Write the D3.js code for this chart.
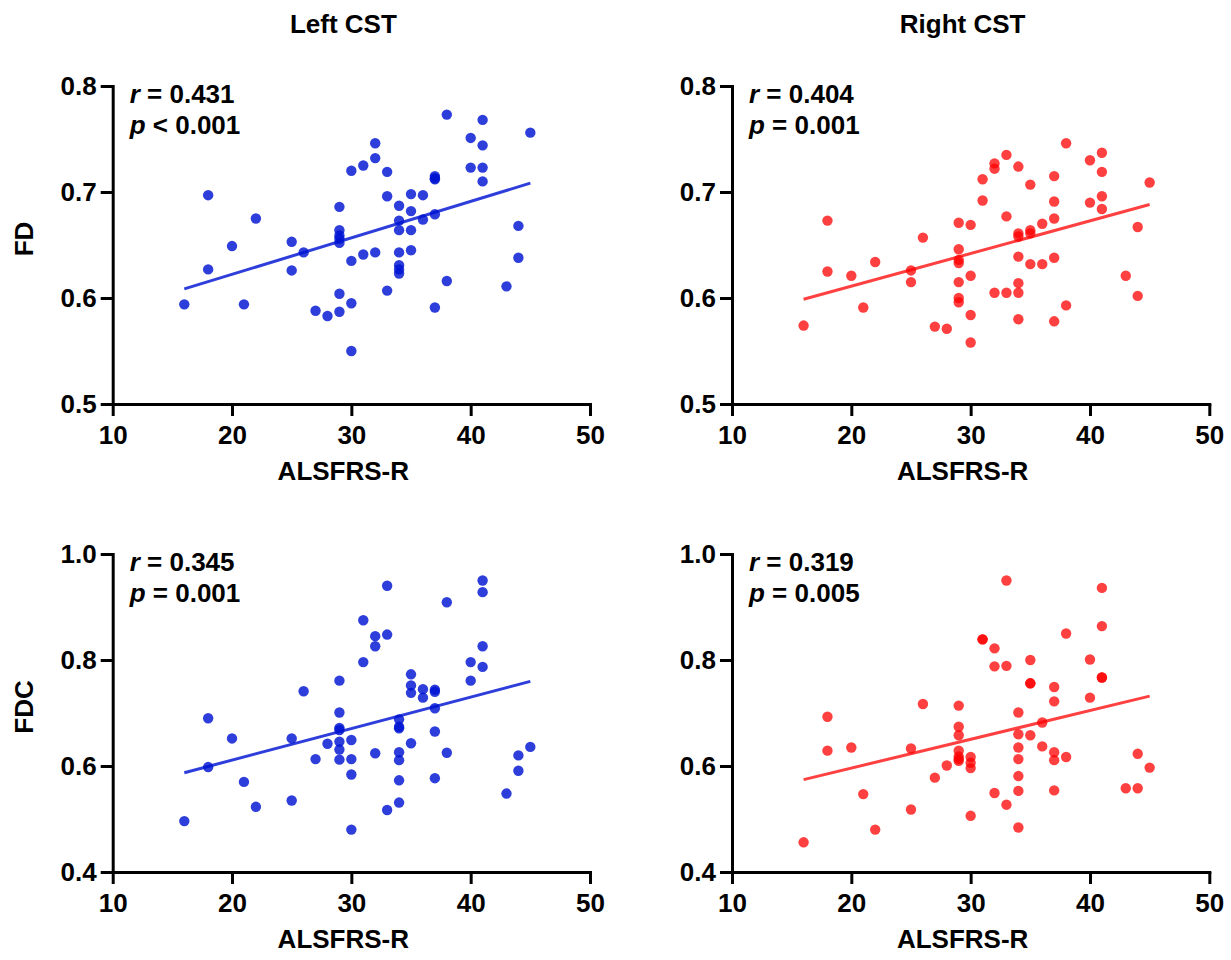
<!DOCTYPE html>
<html>
<head>
<meta charset="utf-8">
<script src="https://cdn.jsdelivr.net/npm/d3@7"></script>
<style>
  body { margin: 0; background: #fff; }
  text { font-family: "Liberation Sans", Arial, sans-serif; font-weight: bold; fill: #000; }
  .axis path, .axis line { stroke: #000; stroke-width: 3px; }
  .axis text { font-size: 26px; font-family: "Liberation Sans", Arial, sans-serif; font-weight: bold; }
</style>
</head>
<body>
<div id="chart"></div>
<script>
// data: ALSFRS-R score (x) and metric value (y) per panel
const leftFdX = [38,41,45,40,41,32,32,31,30,33,40,41,41,37,37,37,18,33,35,36,29,34,35,37,22,34,36,34,35,29,29,29,29,44,25,20,26,31,32,34,35,30,34,34,34,44,18,25,38,43,33,29,16,21,30,37,27,28,29,30];
const leftFdY = [0.773,0.768,0.756,0.751,0.744,0.746,0.732,0.725,0.720,0.719,0.723,0.723,0.710,0.715,0.712,0.713,0.697,0.696,0.698,0.697,0.686,0.687,0.682,0.679,0.675,0.673,0.674,0.664,0.664,0.664,0.659,0.656,0.652,0.668,0.653,0.649,0.643,0.641,0.643,0.643,0.645,0.635,0.631,0.627,0.623,0.638,0.627,0.626,0.616,0.611,0.607,0.604,0.594,0.594,0.595,0.591,0.588,0.583,0.587,0.550];

const rightFdX = [38,41,40,33,32,32,34,31,37,41,45,35,31,37,40,41,41,33,37,18,29,30,36,35,35,34,34,44,26,29,29,29,34,35,36,37,22,18,25,20,25,29,30,43,34,32,33,34,44,29,29,21,38,30,34,37,16,27,28,30];
const rightFdY = [0.746,0.737,0.730,0.735,0.727,0.722,0.724,0.712,0.715,0.719,0.709,0.707,0.692,0.691,0.690,0.696,0.684,0.677,0.675,0.673,0.671,0.669,0.670,0.664,0.661,0.661,0.658,0.667,0.657,0.646,0.636,0.633,0.639,0.632,0.632,0.638,0.634,0.625,0.626,0.621,0.615,0.615,0.621,0.621,0.614,0.605,0.605,0.605,0.602,0.600,0.596,0.591,0.593,0.584,0.580,0.578,0.574,0.573,0.571,0.558];

const leftFdcX = [41,33,41,38,31,32,33,32,41,31,40,41,35,29,40,35,35,36,36,37,37,26,37,29,34,34,34,18,29,29,37,20,25,30,29,28,35,29,32,34,38,45,44,27,29,30,34,18,44,30,37,34,21,43,25,34,22,33,16,30];
const leftFdcY = [0.950,0.940,0.928,0.909,0.875,0.845,0.848,0.826,0.826,0.796,0.796,0.787,0.773,0.761,0.761,0.752,0.738,0.745,0.729,0.744,0.740,0.741,0.709,0.701,0.688,0.674,0.671,0.690,0.672,0.668,0.665,0.652,0.652,0.649,0.646,0.642,0.643,0.631,0.624,0.626,0.625,0.636,0.620,0.613,0.612,0.613,0.611,0.598,0.591,0.584,0.577,0.573,0.570,0.548,0.535,0.531,0.523,0.517,0.496,0.480];

const rightFdcX = [33,41,41,38,31,31,32,32,33,35,40,41,41,35,35,37,37,40,26,29,34,18,36,29,29,34,35,36,34,25,20,18,29,37,38,37,44,29,29,29,30,30,30,28,34,45,27,34,21,32,34,37,43,44,33,25,30,22,34,16];
const rightFdcY = [0.950,0.936,0.864,0.850,0.839,0.839,0.822,0.788,0.789,0.800,0.801,0.767,0.767,0.756,0.756,0.749,0.722,0.729,0.717,0.714,0.701,0.693,0.682,0.674,0.658,0.660,0.658,0.637,0.635,0.633,0.635,0.629,0.629,0.626,0.617,0.611,0.623,0.618,0.613,0.610,0.617,0.606,0.596,0.601,0.613,0.597,0.578,0.581,0.547,0.549,0.553,0.554,0.558,0.558,0.527,0.518,0.506,0.480,0.484,0.456];

const columnTitles = ["Left CST", "Right CST"];
const rowLabels = ["FD", "FDC"];
const rValues = ["0.431", "0.404", "0.345", "0.319"];
const pValues = ["< 0.001", "= 0.001", "= 0.001", "= 0.005"];
const xTicks = [10, 20, 30, 40, 50];
const fdTicks = [0.5, 0.6, 0.7, 0.8];
const fdcTicks = [0.4, 0.6, 0.8, 1.0];

// constants
const WIDTH = 1231;
const HEIGHT = 960;
const COL_X = [112.7, 732];
const ROW_Y = [86, 554];
const PLOT_W = 477.3;
const PLOT_H = 318;
const BLUE = "rgb(0,20,210)";
const RED = "rgb(255,0,0)";
const DOT_R = 5.2;
const FONT = "26px";

const panels = [
    { col: 0, row: 0, xs: leftFdX, ys: leftFdY, domain: [0.5, 0.8], ticks: fdTicks, color: BLUE, opacity: 0.82 },
    { col: 1, row: 0, xs: rightFdX, ys: rightFdY, domain: [0.5, 0.8], ticks: fdTicks, color: RED, opacity: 0.75 },
    { col: 0, row: 1, xs: leftFdcX, ys: leftFdcY, domain: [0.4, 1.0], ticks: fdcTicks, color: BLUE, opacity: 0.82 },
    { col: 1, row: 1, xs: rightFdcX, ys: rightFdcY, domain: [0.4, 1.0], ticks: fdcTicks, color: RED, opacity: 0.75 },
];

const svg = d3.select("#chart").append("svg")
    .attr("width", WIDTH)
    .attr("height", HEIGHT);

panels.forEach((p, i) => drawPanel(p, i));

// column titles and row labels
columnTitles.forEach((t, c) => {
    svg.append("text")
        .attr("x", COL_X[c] + PLOT_W / 2 - 8)
        .attr("y", 33)
        .attr("text-anchor", "middle")
        .style("font-size", FONT)
        .text(t);
});
rowLabels.forEach((t, r) => {
    svg.append("text")
        .attr("transform", "translate(33," + (ROW_Y[r] + PLOT_H / 2 - 6) + ") rotate(-90)")
        .attr("text-anchor", "middle")
        .style("font-size", FONT)
        .text(t);
});

function linearFit(xs, ys) {
    const mx = d3.mean(xs), my = d3.mean(ys);
    let sxy = 0, sxx = 0;
    xs.forEach((x, k) => { sxy += (x - mx) * (ys[k] - my); sxx += (x - mx) * (x - mx); });
    const slope = sxy / sxx;
    return x => my + slope * (x - mx);
}

function drawPanel(p, i) {
    const g = svg.append("g")
        .attr("transform", "translate(" + COL_X[p.col] + "," + ROW_Y[p.row] + ")");

    const x = d3.scaleLinear().domain([10, 50]).range([0, PLOT_W]);
    const y = d3.scaleLinear().domain(p.domain).range([PLOT_H, 0]);

    g.append("g")
        .attr("class", "axis")
        .attr("transform", "translate(0," + PLOT_H + ")")
        .call(d3.axisBottom(x).tickValues(xTicks).tickSize(12).tickSizeOuter(0).tickPadding(8))
        .selectAll("text").attr("dy", "0.78em");

    g.append("g")
        .attr("class", "axis")
        .call(d3.axisLeft(y).tickValues(p.ticks).tickSize(12).tickSizeOuter(0).tickPadding(4)
            .tickFormat(d3.format(".1f")));

    g.selectAll(".axis .domain").attr("stroke-linecap", "square");

    // points
    const pts = p.xs.map((v, k) => ({ x: v, y: p.ys[k] }));
    g.append("g").selectAll("circle")
        .data(pts)
        .join("circle")
        .attr("cx", d => x(d.x))
        .attr("cy", d => y(d.y))
        .attr("r", DOT_R)
        .attr("fill", p.color)
        .attr("fill-opacity", p.opacity);

    // regression line
    const fit = linearFit(p.xs, p.ys);
    const ext = d3.extent(p.xs);
    g.append("line")
        .attr("x1", x(ext[0])).attr("y1", y(fit(ext[0])))
        .attr("x2", x(ext[1])).attr("y2", y(fit(ext[1])))
        .attr("stroke", p.color)
        .attr("stroke-opacity", p.opacity)
        .attr("stroke-width", 3);

    // x label
    g.append("text")
        .attr("x", PLOT_W / 2 - 8)
        .attr("y", PLOT_H + 76)
        .attr("text-anchor", "middle")
        .style("font-size", FONT)
        .text("ALSFRS-R");

    // stats
    const r = g.append("text").attr("x", 17).attr("y", 17).style("font-size", FONT);
    r.append("tspan").style("font-style", "italic").text("r");
    r.append("tspan").text(" = " + rValues[i]);
    const pv = g.append("text").attr("x", 17).attr("y", 48).style("font-size", FONT);
    pv.append("tspan").style("font-style", "italic").text("p");
    pv.append("tspan").text(" " + pValues[i]);
}
</script>
</body>
</html>
